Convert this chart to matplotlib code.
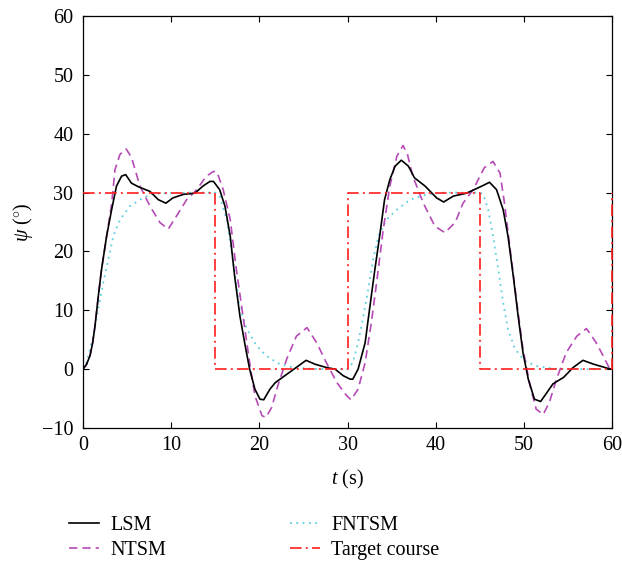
import numpy as np
import matplotlib
matplotlib.use("Agg")
import matplotlib.pyplot as plt

plt.rcParams['font.family'] = ['Liberation Serif', 'DejaVu Serif']
plt.rcParams['mathtext.fontset'] = 'custom'
plt.rcParams['mathtext.rm'] = 'Liberation Serif'
plt.rcParams['mathtext.it'] = 'Liberation Serif:italic'

# --- data: (t [s], psi [deg]) ---
lsm = [(0, 0), (0.4, 0.8), (0.8, 2.3), (1.1, 4.5), (1.36, 7.3), (1.74, 12.4), (2.1, 16.9), (2.68, 22.6),
       (3.25, 27.1), (3.8, 31.1), (4.38, 32.8), (4.84, 33.05), (5.5, 31.6), (6.27, 31.0), (7.6, 30.2),
       (8.54, 28.8), (9.4, 28.2), (10.2, 29.1), (11.4, 29.7), (12.7, 29.9), (13.6, 31.1), (14.4, 31.9),
       (14.8, 31.9), (15.5, 30.5), (16.1, 27.7), (16.7, 22.6), (17.2, 15.8), (17.8, 9.0), (18.4, 3.95),
       (18.9, 0), (19.5, -3.4), (20.07, -5.1), (20.5, -5.2), (21.2, -3.4), (21.8, -2.3), (22.9, -1.1),
       (24.2, 0.3), (25.3, 1.5), (26.3, 0.85), (27.6, 0.28), (28.6, 0), (29.5, -1.1), (30.3, -1.7),
       (30.6, -1.7), (31.2, 0), (32, 4.5), (32.5, 10.2), (33.1, 16.9), (33.7, 23.2), (34.2, 28.8),
       (34.8, 32.2), (35.4, 34.5), (36.1, 35.5), (36.9, 34.5), (37.6, 32.5), (38.8, 31.1), (40.1, 29.1),
       (40.9, 28.4), (42, 29.4), (43.5, 29.9), (44.8, 30.8), (45.5, 31.3), (46.1, 31.75), (46.9, 30.5),
       (47.65, 27.1), (48.2, 22.6), (48.8, 15.8), (49.35, 9.0), (49.9, 2.8), (50.5, -1.7), (51.2, -5.1),
       (51.9, -5.5), (52.6, -4), (53.3, -2.5), (54.5, -1.4), (55.6, 0.3), (56.7, 1.5), (57.9, 0.85),
       (59.6, 0.1), (60, 0)]

ntsm = [(0, 0), (0.4, 0.8), (0.8, 2.3), (1.1, 4.5), (1.36, 7.3), (1.74, 12.4), (2.1, 16.9), (2.68, 22.6),
        (3.25, 28), (3.63, 33.9), (4.2, 36.5), (4.9, 37.4), (5.5, 36), (6.46, 31.1), (7.6, 27.7),
        (8.73, 24.9), (9.67, 23.8), (10.6, 26), (11.76, 28.8), (12.9, 30.5), (14, 32.8), (14.8, 33.6),
        (15.2, 33.5), (15.9, 30.5), (16.7, 25.4), (17.4, 16.9), (18.2, 8.5), (18.9, 1.1), (19.5, -4.5),
        (20.3, -7.9), (20.75, -8.2), (21.4, -6.5), (22.1, -2.8), (23.1, 1.7), (24.2, 5.6), (25.4, 7.06),
        (26.5, 4.5), (27.6, 1.1), (28.8, -2.3), (29.9, -4.5), (30.4, -5.2), (31.2, -3.4), (32, 1.1),
        (32.7, 7.9), (33.3, 14.7), (34.05, 23.7), (34.8, 31.1), (35.6, 36.2), (36.3, 38), (36.8, 36.5),
        (37.4, 32.8), (38.6, 28.2), (39.9, 24.3), (41.04, 23.2), (42.2, 24.9), (43.1, 28.2), (44.25, 30.5),
        (45.5, 34.2), (46.5, 35.3), (47.3, 33.3), (47.8, 28.2), (48.4, 20.9), (49.2, 11.3), (49.9, 3.4),
        (50.7, -2.8), (51.4, -6.8), (52.2, -7.7), (52.9, -5.6), (53.7, -1.7), (54.8, 2.8), (56, 5.6),
        (57.1, 6.9), (58.2, 4.5), (59, 2.25), (59.75, 0), (60, -0.3)]

fntsm = [(0, 0), (0.4, 1.1), (1.17, 5.6), (1.74, 10.2), (2.3, 14.7), (2.87, 18.6), (3.44, 22.6),
         (4.2, 25.4), (5.33, 27.7), (6.46, 28.8), (7.6, 29.7), (9.4, 29.9), (12, 30), (15, 30),
         (15.5, 29.4), (16.3, 25.4), (17.04, 18.1), (17.8, 10.2), (18.6, 6.8), (19.7, 3.95), (20.8, 2.25),
         (22.3, 0.85), (23.8, 0.3), (26, 0.05), (30, 0), (30.6, 1.1), (31.2, 4.5), (31.8, 9), (32.35, 13.6),
         (32.9, 18.6), (33.5, 22.6), (34.4, 25.4), (35.6, 27.1), (37.1, 28.8), (39, 29.7), (41, 30),
         (45, 30), (45.4, 29.7), (45.95, 27.1), (46.5, 22.6), (47.1, 16.9), (47.65, 11.3), (48.2, 6.8),
         (49, 3.4), (50.1, 1.4), (51.4, 0.55), (53.3, 0.1), (55, 0), (60, 0)]

target_t = [0, 15, 15, 30, 30, 45, 45, 60, 60]
target_y = [30, 30, 0, 0, 30, 30, 0, 0, 30]

lsm_t, lsm_y = np.array(lsm).T
ntsm_t, ntsm_y = np.array(ntsm).T
fntsm_t, fntsm_y = np.array(fntsm).T

fig = plt.figure(figsize=(6.22, 5.64), dpi=100)
ax = fig.add_axes([0.1334, 0.2411, 0.8506, 0.7305])

ax.plot(lsm_t, lsm_y, color='black', lw=1.2, label='LSM', zorder=4)
ax.plot(ntsm_t, ntsm_y, color='#b64ab6', lw=1.2, ls=(0, (5, 3)), label='NTSM', zorder=3)
ax.plot(fntsm_t, fntsm_y, color='#5ccfe0', lw=1.3, ls=(0, (1, 2.5)), label='FNTSM', zorder=2)
ax.plot(target_t, target_y, color='#ff1e1e', lw=1.2, ls=(0, (7, 2.5, 1.2, 2.5)),
        label='Target course', zorder=5, clip_on=False)

ax.set_xlim(0, 60)
ax.set_ylim(-10, 60)
ax.set_xticks(np.arange(0, 61, 10))
ax.set_yticks(np.arange(-10, 61, 10))
ax.tick_params(direction='in', top=True, right=True, length=4, labelsize=14.5, width=0.8)
ax.tick_params(axis='x', pad=6)
ax.tick_params(axis='y', pad=7)
for s in ax.spines.values():
    s.set_linewidth(0.9)

ax.set_xlabel(r'$t$ (s)', fontsize=14.5, labelpad=9)
ax.set_ylabel(r'$\psi$ ($^{\circ}$)', fontsize=14.5, labelpad=5)

h, l = ax.get_legend_handles_labels()
fig.legend(h, l, loc='upper left', bbox_to_anchor=(0.082, 0.118), ncol=2, frameon=False,
           fontsize=14.5, handlelength=1.5, columnspacing=6.15, labelspacing=0.3, handletextpad=0.55)

fig.savefig('out.png', dpi=100)
